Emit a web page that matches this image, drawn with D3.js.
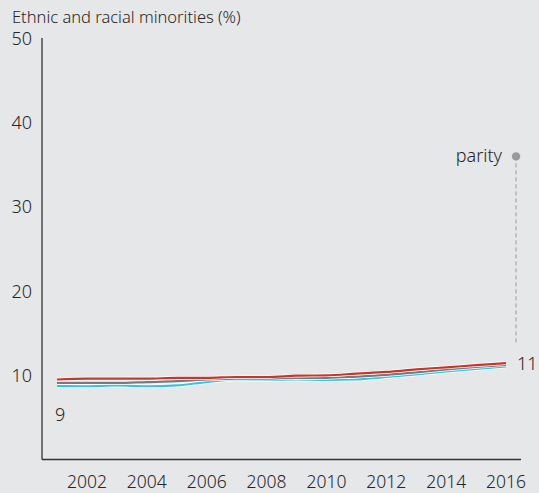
<!DOCTYPE html>
<html>
<head>
<meta charset="utf-8">
<script src="https://cdn.jsdelivr.net/npm/d3@7"></script>
<style>
  html, body { margin: 0; padding: 0; background: #e6e7e9; }
  svg { display: block; font-family: "Noto Sans", sans-serif; }
</style>
</head>
<body>
<svg id="chart" width="539" height="493"></svg>
<script>
const years = d3.range(2001, 2017)
const redVals  = [9.5, 9.6, 9.6, 9.6, 9.7, 9.7, 9.8, 9.8, 9.95, 10.0, 10.2, 10.4, 10.7, 10.95, 11.2, 11.45]
const grayVals = [9.1, 9.1, 9.1, 9.2, 9.3, 9.5, 9.6, 9.6, 9.7, 9.7, 9.85, 10.05, 10.35, 10.7, 11.0, 11.25]
const cyanVals = [8.75, 8.7, 8.8, 8.7, 8.8, 9.2, 9.5, 9.45, 9.5, 9.45, 9.5, 9.8, 10.1, 10.45, 10.75, 11.05]
const yTicks = [10, 20, 30, 40, 50]
const xTicks = [2002, 2004, 2006, 2008, 2010, 2012, 2014, 2016]
const parityValue = 36
const parityLineEnd = 13.7
const startLabel = '9'
const endLabel = '11'

// drawn bottom to top
const series = [
    { name: 'cyan', values: cyanVals, color: '#3fc0d8' },
    { name: 'gray', values: grayVals, color: '#737a80' },
    { name: 'red', values: redVals, color: '#c4372a' },
]

const svg = d3.select('#chart')
const textColor = '#262626'

const x = d3.scaleLinear().domain([2000.5, 2016.5]).range([42, 521])
const y = d3.scaleLinear().domain([0, 50]).range([459.5, 38.5])

// title
svg.append('text')
    .attr('x', 12).attr('y', 23)
    .attr('font-size', 16.5)
    .attr('font-weight', 300)
    .attr('fill', textColor)
    .text('Ethnic and racial minorities (%)')

// axes
svg.append('line')
    .attr('x1', x(2000.5)).attr('x2', x(2000.5))
    .attr('y1', y(50) - 0.5).attr('y2', y(0))
    .attr('stroke', '#333').attr('stroke-width', 1.3)

svg.append('line')
    .attr('x1', x(2000.5)).attr('x2', x(2016.5))
    .attr('y1', y(0)).attr('y2', y(0))
    .attr('stroke', '#333').attr('stroke-width', 1.3)

svg.selectAll('.ytick')
    .data(yTicks)
    .enter()
    .append('text')
    .attr('class', 'ytick')
    .attr('x', 32)
    .attr('y', d => y(d))
    .attr('dy', '0.36em')
    .attr('text-anchor', 'end')
    .attr('font-size', 18)
    .attr('font-weight', 300)
    .attr('fill', textColor)
    .text(d => d)

svg.selectAll('.xtick')
    .data(xTicks)
    .enter()
    .append('text')
    .attr('class', 'xtick')
    .attr('x', d => x(d))
    .attr('y', 488)
    .attr('text-anchor', 'middle')
    .attr('font-size', 17.5)
    .attr('font-weight', 300)
    .attr('fill', textColor)
    .text(d => d)

// lines
const line = d3.line()
    .x((d, i) => x(years[i]))
    .y(d => y(d))
    .curve(d3.curveMonotoneX)

const groups = svg.selectAll('.series')
    .data(series)
    .enter()
    .append('g')
    .attr('class', 'series')

groups.append('path')
    .attr('d', d => line(d.values))
    .attr('fill', 'none')
    .attr('stroke', '#fff')
    .attr('stroke-width', 3.6)

groups.append('path')
    .attr('d', d => line(d.values))
    .attr('fill', 'none')
    .attr('stroke', d => d.color)
    .attr('stroke-width', 2.2)

// start / end labels
svg.append('text')
    .attr('x', x(2001) - 2).attr('y', 421)
    .attr('font-size', 18)
    .attr('font-weight', 300)
    .attr('fill', textColor)
    .text(startLabel)

svg.append('text')
    .attr('x', x(2016) + 11).attr('y', y(11.3) + 6)
    .attr('font-size', 18)
    .attr('font-weight', 300)
    .attr('fill', textColor)
    .text(endLabel)

// parity annotation
const px = x(2016) + 10
svg.append('line')
    .attr('x1', px).attr('x2', px)
    .attr('y1', y(parityValue)).attr('y2', y(parityLineEnd))
    .attr('stroke', '#9a9a9a')
    .attr('stroke-width', 1)
    .attr('stroke-dasharray', '4,3')

svg.append('circle')
    .attr('cx', px).attr('cy', y(parityValue))
    .attr('r', 4.2)
    .attr('fill', '#9a9a9a')

svg.append('text')
    .attr('x', px - 14).attr('y', y(parityValue))
    .attr('dy', '0.32em')
    .attr('text-anchor', 'end')
    .attr('font-size', 18)
    .attr('font-weight', 300)
    .attr('fill', textColor)
    .text('parity')
</script>
</body>
</html>
